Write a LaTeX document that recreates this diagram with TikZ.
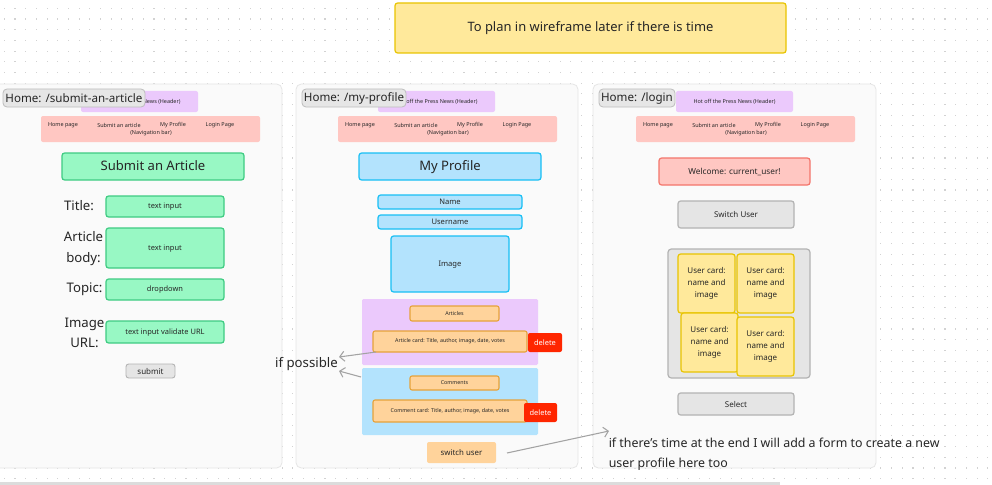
\documentclass[tikz,border=0pt]{standalone}
\usepackage{fontspec}
\setmainfont{Noto Sans}
\usetikzlibrary{arrows.meta,calc}

\definecolor{txt}{HTML}{262626}
\definecolor{dotc}{HTML}{D2D2D2}
\definecolor{panelbg}{HTML}{FAFAFA}
\definecolor{panelline}{HTML}{E6E6E6}
\definecolor{taggray}{HTML}{E6E6E6}
\definecolor{tagline}{HTML}{BDBDBD}
\definecolor{purp}{HTML}{EBC9FC}
\definecolor{navpink}{HTML}{FFC7C2}
\definecolor{grn}{HTML}{98F8C4}
\definecolor{grnline}{HTML}{3ECB82}
\definecolor{blu}{HTML}{B3E3FD}
\definecolor{bluline}{HTML}{17BFF4}
\definecolor{orng}{HTML}{FFD39B}
\definecolor{orngline}{HTML}{E6A23A}
\definecolor{redbtn}{HTML}{FF2600}
\definecolor{ylw}{HTML}{FFE99B}
\definecolor{ylwline}{HTML}{E8C400}
\definecolor{salmon}{HTML}{F3756B}
\definecolor{btn}{HTML}{E5E5E5}
\definecolor{btnline}{HTML}{B3B3B3}
\definecolor{conngray}{HTML}{A3A3A3}
\definecolor{scrollc}{HTML}{DCDCDC}

\tikzset{
  rect/.style args={#1/#2/#3/#4}{
    at={({(#1+#3)/2},{(#2+#4)/2})},
    minimum width={(#3-#1)*0.75pt},
    minimum height={(#4-#2)*0.75pt},
    inner sep=0pt, outer sep=0pt},
  base/.style={text=txt, align=center, rounded corners=1.5pt},
  panel/.style={base, fill=panelbg, draw=panelline, line width=0.6pt, rounded corners=4pt},
  tag/.style={base, fill=taggray, draw=tagline, line width=0.6pt, rounded corners=3pt,
    font=\fontsize{8.7}{10}\selectfont},
  hdr/.style={base, fill=purp, font=\fontsize{4.1}{5}\selectfont},
  navbar/.style={base, fill=navpink},
  navtext/.style={text=txt, inner sep=0pt, font=\fontsize{4.1}{5}\selectfont},
  greenbox/.style={base, fill=grn, draw=grnline, line width=0.9pt, rounded corners=2pt},
  bluebox/.style={base, fill=blu, draw=bluline, line width=0.9pt, rounded corners=2pt},
  area/.style={base, rounded corners=1pt},
  orangebox/.style={base, fill=orng, draw=orngline, line width=0.8pt, rounded corners=1.5pt,
    font=\fontsize{4.0}{5}\selectfont},
  delbtn/.style={base, fill=redbtn, text=white, font=\fontsize{5.6}{7}\selectfont},
  graybtn/.style={base, fill=btn, draw=btnline, line width=0.9pt, rounded corners=2pt,
    font=\fontsize{6}{7}\selectfont},
  usercard/.style={base, fill=ylw, draw=ylwline, line width=0.9pt, rounded corners=2pt,
    font=\fontsize{6}{9}\selectfont},
  bigtitle/.style={font=\fontsize{9.8}{12}\selectfont, text height=7.2pt, text depth=1.6pt},
  small/.style={font=\fontsize{5.6}{6.5}\selectfont, text height=4.1pt, text depth=1pt},
  profile/.style={font=\fontsize{5.7}{7}\selectfont, text height=4.2pt, text depth=1pt},
  formlabel/.style={text=txt, align=center, inner sep=0pt, font=\fontsize{9.9}{15.5}\selectfont},
  remark/.style={text=txt, inner sep=0pt, font=\fontsize{9.3}{15}\selectfont},
  conn/.style={draw=conngray, line width=0.8pt, -{Straight Barb[length=3.5pt,width=7.5pt]}},
}

\begin{document}
\begin{tikzpicture}[x=0.75pt,y=-0.75pt]
\useasboundingbox (0,0) rectangle (992,485);
\fill[white] (0,0) rectangle (992,485);

% dotted canvas grid
\foreach \i in {0,...,92}{
  \foreach \j in {0,...,44}{
    \fill[dotc] ({4.3+\i*10.69-0.55},{8.3+\j*10.69-0.55}) rectangle ++(1.1,1.1);
  }
}

% scroll bar along the bottom edge
\draw[scrollc, line width=1.6pt] (0,483.5) -- (780,483.5);

% sticky note on top
\node[base, rect=395/3/786/53, fill=ylw, draw=ylwline, line width=0.9pt, rounded corners=2pt,
  font=\fontsize{9.7}{12}\selectfont] (plan) {To plan in wireframe later if there is time};

% page frames
\node[panel, rect=-6/84/282/468] (p1) {};
\node[panel, rect=296/84/578/468] (p2) {};
\node[panel, rect=593/84/876/468] (p3) {};

% header and navigation bar of each page
\node[hdr, rect=81/91/198/112] (hdra) {Hot off the Press News (Header)};
\node[hdr, rect=378/91/495/112] (hdrb) {Hot off the Press News (Header)};
\node[hdr, rect=676/91/793/112] (hdrc) {Hot off the Press News (Header)};
\node[navbar, rect=41/116/260/142] (nava) {};
\node[navbar, rect=338/116/557/142] (navb) {};
\node[navbar, rect=636/116/855/142] (navc) {};
\foreach \k in {a,b,c}{
  \node[navtext] (home\k) at ($(nav\k.north west)+(22,9.5)$) {Home page};
  \node[navtext] (sub\k)  at ($(nav\k.north west)+(78,9.5)$) {Submit an article};
  \node[navtext] (prof\k) at ($(nav\k.north west)+(132,9.5)$) {My Profile};
  \node[navtext] (log\k)  at ($(nav\k.north west)+(179,9.5)$) {Login Page};
  \node[navtext] (navl\k) at ($(nav\k.north west)+(110,17.5)$) {(Navigation bar)};
}

% ---------- /submit-an-article ----------
\node[tag, rect=3/89/145/107] (tag1) {Home: /submit-an-article};
\node[greenbox, bigtitle, rect=62/153/244/180] (subtitle) {Submit an Article};

\node[formlabel] (ltitle) at (79,206) {Title:};
\node[formlabel] (lbody)  at (83.5,248.5) {Article\\body:};
\node[formlabel] (ltopic) at (84.5,289.5) {Topic:};
\node[formlabel] (limage) at (84.5,333) {Image\\URL:};

\node[greenbox, small, rect=106/196/224/217] (intitle) {text input};
\node[greenbox, small, rect=106/228/224/268] (inbody) {text input};
\node[greenbox, small, rect=106/279/224/300] (intopic) {dropdown};
\node[greenbox, small, rect=106/321/224/343] (inurl) {text input validate URL};
\node[graybtn, rect=126/364/175/378, line width=0.7pt] (submit) {submit};

% ---------- /my-profile ----------
\node[tag, rect=302/89/406/107] (tag2) {Home: /my-profile};
\node[bluebox, bigtitle, rect=359/153/541/180] (proftitle) {My Profile};
\node[bluebox, profile, rect=378/195/522/209] (name) {Name};
\node[bluebox, profile, rect=378/215/522/229] (uname) {Username};
\node[bluebox, profile, rect=391/236/509/292] (img) {Image};

\node[area, fill=purp, rect=362/299/538/365] (aarea) {};
\node[orangebox, rect=410/306/499/321] (alabel) {Articles};
\node[orangebox, rect=373/331/527/352] (acard) {Article card: Title, author, image, date, votes};
\node[delbtn, rect=528/333/562/352] (adel) {delete};

\node[area, fill=blu, rect=362/368/538/435] (carea) {};
\node[orangebox, rect=410/376/499/390] (clabel) {Comments};
\node[orangebox, rect=373/400/527/422] (ccard) {Comment card: Title, author, image, date, votes};
\node[delbtn, rect=524/403/557/422] (cdel) {delete};

\node[base, fill=orng, font=\fontsize{5.9}{7}\selectfont, rect=427/442/496/463] (switch) {switch user};

% ---------- /login ----------
\node[tag, rect=599/89/675/107] (tag3) {Home: /login};
\node[base, fill=navpink, draw=salmon, line width=0.9pt, rounded corners=2pt,
  font=\fontsize{6.2}{8}\selectfont, rect=659/158/810/185] (welcome) {Welcome: current\_user!};
\node[graybtn, rect=678/201/794/228] (switchu) {Switch User};
\node[graybtn, rect=668/249/810/378, rounded corners=2.5pt] (users) {};
\node[usercard, rect=678/254/735/313] (card1) {User card:\\name and\\image};
\node[usercard, rect=737/254/794/313] (card2) {User card:\\name and\\image};
\node[usercard, rect=681/313/738/372] (card3) {User card:\\name and\\image};
\node[usercard, rect=737/317/794/376] (card4) {User card:\\name and\\image};
\node[graybtn, rect=678/393/794/415] (select) {Select};

% ---------- remarks ----------
\node[remark, anchor=east, font=\fontsize{9.9}{12}\selectfont] (possible) at (338,364) {if possible};
\node[remark, anchor=north west, align=left] (later) at (608.5,437.5)
  {if there’s time at the end I will add a form to create a new\\user profile here too};

\draw[conn] ($(acard.south west)+(3,0)$) -- ($(possible.east)+(1,-7)$);
\draw[conn] ($(carea.north west)+(-1,9)$) -- ($(possible.east)+(1,7)$);
\draw[conn] ($(switch.east)+(11,0.5)$) -- ($(later.north west)+(0.5,-6.5)$);

\end{tikzpicture}
\end{document}
